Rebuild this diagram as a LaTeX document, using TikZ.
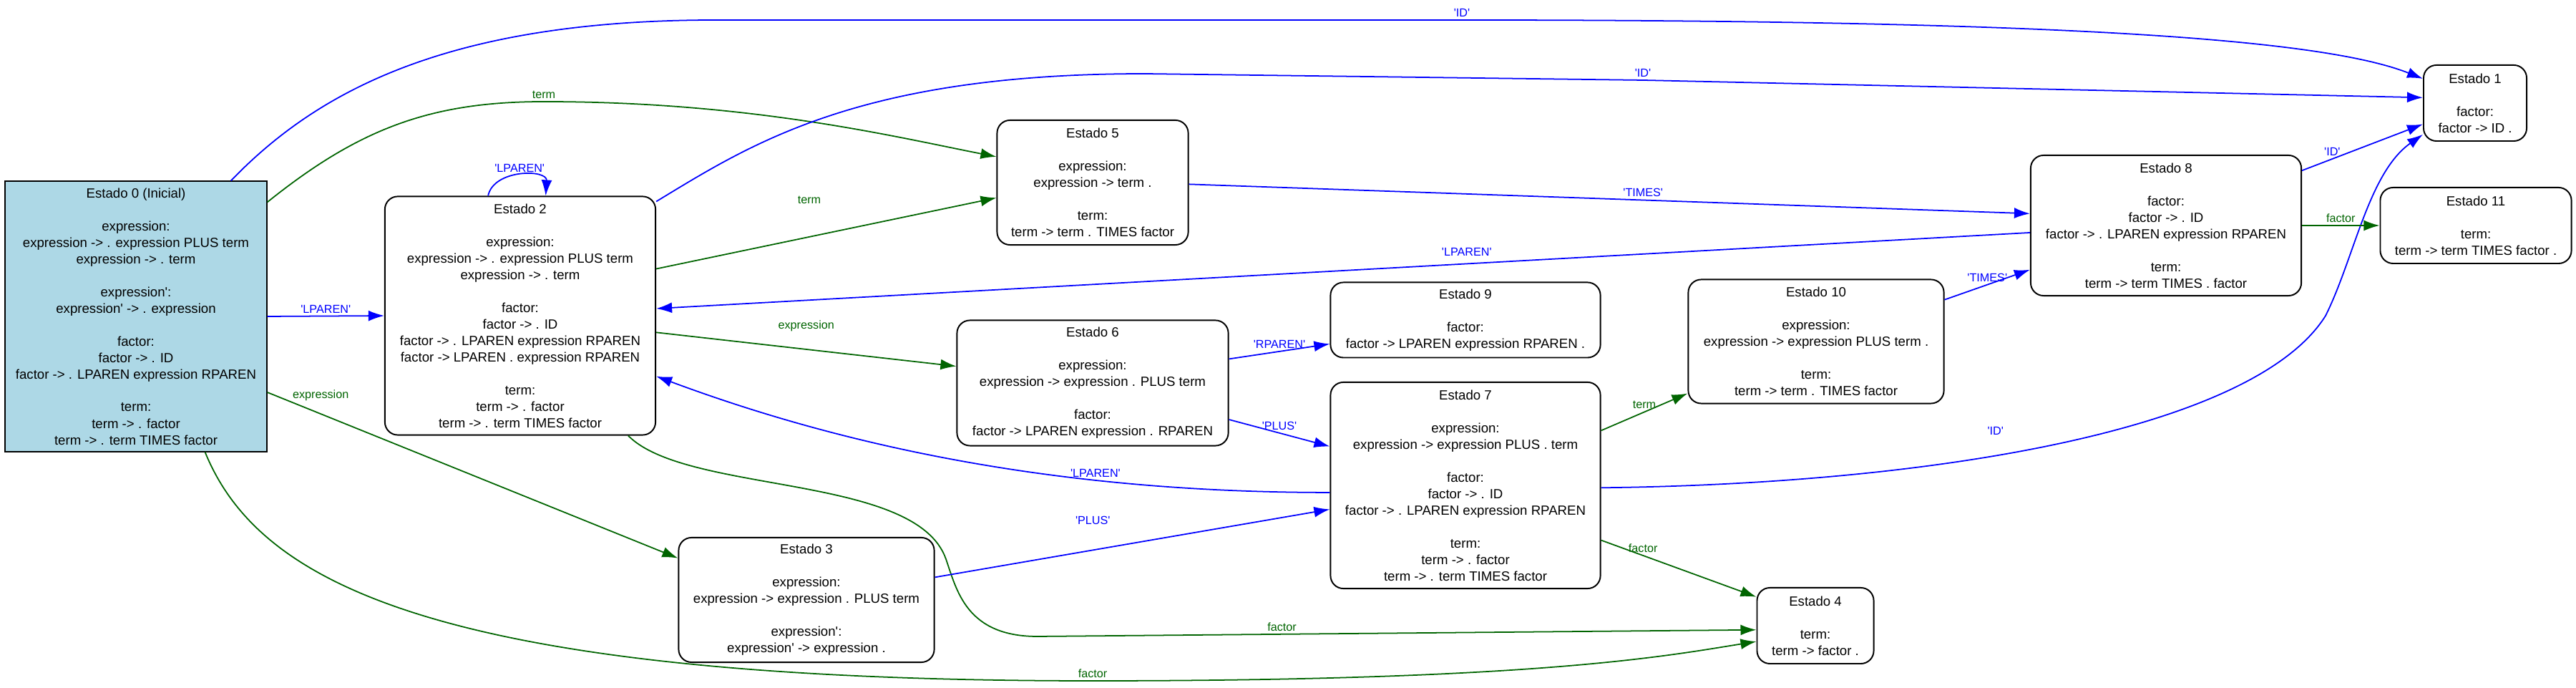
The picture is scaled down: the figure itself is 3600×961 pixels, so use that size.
\documentclass[tikz,border=0pt]{standalone}
\usepackage{fontspec}
\setmainfont{Liberation Sans}
\usepackage{xcolor}
\usepackage{tikz}
\usetikzlibrary{arrows.meta}
\definecolor{lightblue}{RGB}{173,216,230}
\definecolor{darkgreen}{RGB}{0,100,0}
\newcommand{\squote}{\textquotesingle}

\begin{document}
\begin{tikzpicture}[
    x=0.01cm, y=0.01cm,
    state/.style={
        draw,
        rounded corners=0.18cm,
        align=center,
        line width=0.55pt,
        inner sep=1pt,
        font=\fontsize{5.3}{6.55}\selectfont
    },
    start/.style={
        state,
        sharp corners,
        fill=lightblue
    },
    tok/.style={-{Latex[length=2.2mm,width=1.5mm]},line width=0.5pt,blue},
    nt/.style={-{Latex[length=2.2mm,width=1.5mm]},line width=0.5pt,darkgreen},
    lab/.style={font=\fontsize{4.6}{5}\selectfont,inner sep=1pt}
]
\useasboundingbox (0,0) rectangle (3600,961);

\node[start, minimum width=3.65cm, minimum height=3.77cm] (s0) at (190,519) {Estado 0 (Inicial)\\[6.5pt]
expression:\\
expression -> . expression PLUS term\\
expression -> . term\\[6.5pt]
expression\squote:\\
expression\squote{} -> . expression\\[6.5pt]
factor:\\
factor -> . ID\\
factor -> . LPAREN expression RPAREN\\[6.5pt]
term:\\
term -> . factor\\
term -> . term TIMES factor};

\node[state, minimum width=3.78cm, minimum height=3.33cm] (s2) at (727,520) {Estado 2\\[6.5pt]
expression:\\
expression -> . expression PLUS term\\
expression -> . term\\[6.5pt]
factor:\\
factor -> . ID\\
factor -> . LPAREN expression RPAREN\\
factor -> LPAREN . expression RPAREN\\[6.5pt]
term:\\
term -> . factor\\
term -> . term TIMES factor};

\node[state, minimum width=2.67cm, minimum height=1.74cm] (s5) at (1527,706) {Estado 5\\[6.5pt]
expression:\\
expression -> term .\\[6.5pt]
term:\\
term -> term . TIMES factor};

\node[state, minimum width=3.79cm, minimum height=1.75cm] (s6) at (1527,426) {Estado 6\\[6.5pt]
expression:\\
expression -> expression . PLUS term\\[6.5pt]
factor:\\
factor -> LPAREN expression . RPAREN};

\node[state, minimum width=3.57cm, minimum height=1.74cm] (s3) at (1127,123) {Estado 3\\[6.5pt]
expression:\\
expression -> expression . PLUS term\\[6.5pt]
expression\squote:\\
expression\squote{} -> expression .};

\node[state, minimum width=3.77cm, minimum height=1.05cm] (s9) at (2048,514) {Estado 9\\[6.5pt]
factor:\\
factor -> LPAREN expression RPAREN .};

\node[state, minimum width=3.77cm, minimum height=2.88cm] (s7) at (2048,283) {Estado 7\\[6.5pt]
expression:\\
expression -> expression PLUS . term\\[6.5pt]
factor:\\
factor -> . ID\\
factor -> . LPAREN expression RPAREN\\[6.5pt]
term:\\
term -> . factor\\
term -> . term TIMES factor};

\node[state, minimum width=3.57cm, minimum height=1.73cm] (s10) at (2538,484) {Estado 10\\[6.5pt]
expression:\\
expression -> expression PLUS term .\\[6.5pt]
term:\\
term -> term . TIMES factor};

\node[state, minimum width=3.78cm, minimum height=1.96cm] (s8) at (3027,646) {Estado 8\\[6.5pt]
factor:\\
factor -> . ID\\
factor -> . LPAREN expression RPAREN\\[6.5pt]
term:\\
term -> term TIMES . factor};

\node[state, minimum width=1.44cm, minimum height=1.06cm] (s1) at (3459,817) {Estado 1\\[6.5pt]
factor:\\
factor -> ID .};

\node[state, minimum width=2.67cm, minimum height=1.06cm] (s11) at (3460,646) {Estado 11\\[6.5pt]
term:\\
term -> term TIMES factor .};

\node[state, minimum width=1.63cm, minimum height=1.06cm] (s4) at (2537,87) {Estado 4\\[6.5pt]
term:\\
term -> factor .};

% transitions from Estado 0
\draw[tok] (s0.55) .. controls (440,830) and (620,933) .. (1000,933) -- (2043,933) node[lab,above]{\squote ID\squote} .. controls (2900,933) and (3250,905) .. (s1.155);
\draw[nt] (s0.41) .. controls (500,780) and (600,819) .. (760,819) node[lab,above]{term} .. controls (1050,819) and (1250,770) .. (s5.165);
\draw[tok] (s0.east) -- node[lab,above]{\squote LPAREN\squote} (s2.west);
\draw[nt] (s0.-30) -- node[lab,pos=0.13,above=4pt]{expression} (s3.162);
\draw[nt] (s0.-63) .. controls (360,150) and (600,10) .. (1527,10) node[lab,above]{factor} .. controls (2150,10) and (2330,45) .. (s4.195);

% transitions from Estado 2
\draw[tok] (s2.105) .. controls (690,725) and (765,725) .. (s2.78) node[lab,above,pos=0.5]{\squote LPAREN\squote};
\draw[tok] (s2.40) .. controls (1050,760) and (1200,858) .. (1600,858) -- (2296,849) node[lab,above]{\squote ID\squote} -- (s1.174);
\draw[nt] (s2.19) -- node[lab,pos=0.45,above=12pt]{term} (s5.189);
\draw[nt] (s2.-7) -- node[lab,above=6pt]{expression} (s6.173);
\draw[nt] (s2.-48) .. controls (960,270) and (1280,300) .. (1322,180) .. controls (1337,137) and (1350,72) .. (1450,72) -- (s4.184) node[lab,above,pos=0.34]{factor};

% transitions from Estado 5, 6, 3
\draw[tok] (s5.-1) -- node[lab,above,pos=0.54]{\squote TIMES\squote} (s8.175);
\draw[tok] (s6.10) -- node[lab,above]{\squote RPAREN\squote} (s9.190);
\draw[tok] (s6.-15) -- node[lab,above]{\squote PLUS\squote} (s7.164);
\draw[tok] (s3.10) -- node[lab,above=9pt,pos=0.4]{\squote PLUS\squote} (s7.190);

% transitions from Estado 7
\draw[tok] (s7.183) .. controls (1500,273) and (1200,330) .. (s2.-24) node[lab,above,pos=0.32]{\squote LPAREN\squote};
\draw[nt] (s7.22) -- node[lab,above]{term} (s10.202);
\draw[tok] (s7.-1) .. controls (2700,285) and (3150,360) .. (3250,520) node[lab,above=7pt,pos=0.42]{\squote ID\squote} .. controls (3290,600) and (3310,720) .. (s1.211);
\draw[nt] (s7.-22) -- node[lab,above,pos=0.27]{factor} (s4.154);

% transitions from Estado 8, 10
\draw[tok] (s8.183) -- node[lab,above=2pt,pos=0.41]{\squote LPAREN\squote} (s2.3);
\draw[tok] (s8.22) -- node[lab,above,pos=0.25]{\squote ID\squote} (s1.202);
\draw[nt] (s8.east) -- node[lab,above]{factor} (s11.west);
\draw[tok] (s10.18) -- node[lab,above]{\squote TIMES\squote} (s8.198);

\end{tikzpicture}
\end{document}
